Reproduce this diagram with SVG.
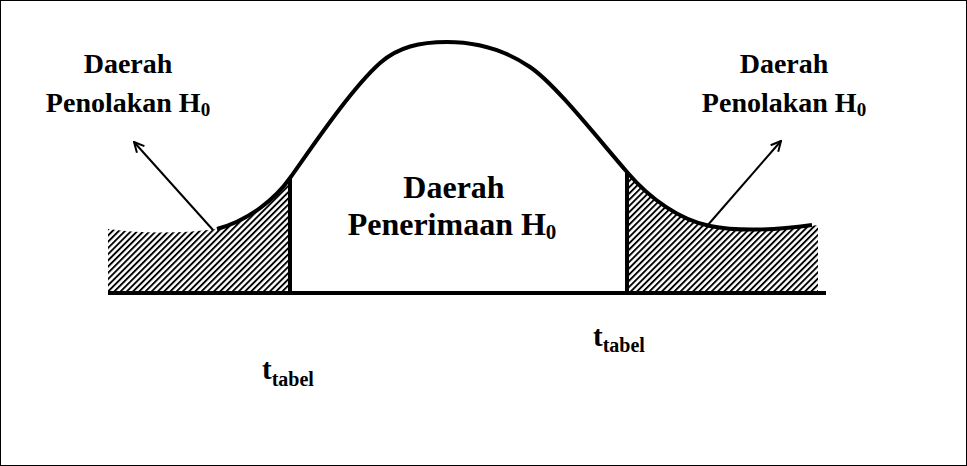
<svg xmlns="http://www.w3.org/2000/svg" width="967" height="466" viewBox="0 0 967 466">
<style>
.thick{stroke:#000;stroke-width:4;fill:none}
.arrow{stroke:#000;stroke-width:2;fill:none}
</style>
<defs>
<pattern id="hatch" width="4.4" height="4.4" patternUnits="userSpaceOnUse" patternTransform="rotate(45)">
<rect x="0" y="0" width="1.9" height="4.4" fill="#000"/>
</pattern>
<marker id="open" viewBox="0 0 12 12" refX="11" refY="6" markerWidth="12" markerHeight="12" markerUnits="userSpaceOnUse" orient="auto">
<path d="M1,1 L11,6 L1,11" fill="none" stroke="#000" stroke-width="2"/>
</marker>
</defs>
<rect x="0.5" y="0.5" width="966" height="465" fill="#fff" stroke="#000" stroke-width="1"/>
<g id="hatch-left">
<path d="M108,229 Q160,236 217,229 C250,220 276,198 290,178 L290,293 L108,293 Z" fill="url(#hatch)"/>
</g>
<g id="hatch-right">
<path d="M627,172 C650,199 680,220 710,226 C745,233 790,228 818,225 L818,293 L627,293 Z" fill="url(#hatch)"/>
</g>
<g id="curve">
<path d="M217,229 C250,220 276,198 290,178 C310,150 350,90 380,63 C398,47 420,42 447,42 C475,42 505,50 530,67 C555,84 595,135 627,172 C650,199 680,220 710,226 C745,233 790,228 812,225" class="thick" stroke-width="3"/>
</g>
<g id="axes">
<line x1="108" y1="293" x2="826" y2="293" class="thick"/>
<line x1="290" y1="178" x2="290" y2="295" class="thick"/>
<line x1="627" y1="172" x2="627" y2="295" class="thick"/>
</g>
<g id="connectors">
<line x1="213" y1="230" x2="134" y2="142" class="arrow" marker-end="url(#open)"/>
<line x1="707" y1="226" x2="781" y2="141" class="arrow" marker-end="url(#open)"/>
</g>
<g font-family="'Liberation Serif', 'Times New Roman', serif" font-weight="bold" fill="#000">
<g id="label-left" font-size="28">
<text x="128" y="73" text-anchor="middle">Daerah</text>
<text x="128" y="112" text-anchor="middle">Penolakan H<tspan font-size="19" dy="4">0</tspan></text>
</g>
<g id="label-right" font-size="28">
<text x="784" y="73" text-anchor="middle">Daerah</text>
<text x="784" y="112" text-anchor="middle">Penolakan H<tspan font-size="19" dy="4">0</tspan></text>
</g>
<g id="label-mid" font-size="32">
<text x="454" y="198" text-anchor="middle">Daerah</text>
<text x="452" y="235" text-anchor="middle">Penerimaan H<tspan font-size="21" dy="4">0</tspan></text>
</g>
<g id="t-left">
<text x="262" y="379" font-size="29">t<tspan font-size="20" dy="7">tabel</tspan></text>
</g>
<g id="t-right">
<text x="593" y="346" font-size="29">t<tspan font-size="20" dy="6">tabel</tspan></text>
</g>
</g>
</svg>
